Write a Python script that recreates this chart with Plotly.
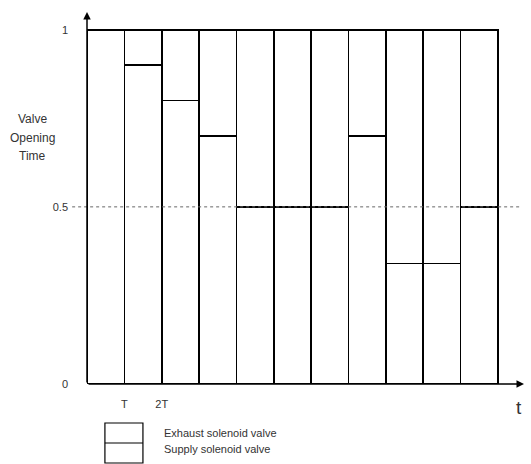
import plotly.graph_objects as go

periods = [1, 2, 3, 4, 5, 6, 7, 8, 9, 10, 11]
supply = [1.0, 0.9, 0.8, 0.7, 0.5, 0.5, 0.5, 0.7, 0.34, 0.34, 0.5]
exhaust = [round(1 - s, 2) for s in supply]
ytick_vals = [0, 0.5, 1]
ytick_text = ["0", "0.5", "1"]
xtick_vals = [1, 2]
xtick_text = ["T", "2T"]

x_centers = [p - 0.5 for p in periods]
font = dict(family="Liberation Sans, Arial, sans-serif", size=11, color="#333")

fig = go.Figure()
fig.add_trace(go.Bar(x=x_centers, y=supply, width=1, name="Supply solenoid valve",
                     marker=dict(color="white", line=dict(color="black", width=1.6)),
                     showlegend=False))
fig.add_trace(go.Bar(x=x_centers, y=exhaust, width=1, name="Exhaust solenoid valve",
                     marker=dict(color="white", line=dict(color="black", width=1.6)),
                     showlegend=False))

fig.update_layout(
    barmode="stack",
    width=531, height=464,
    margin=dict(l=87, r=7, t=12, b=80),
    plot_bgcolor="white", paper_bgcolor="white",
    font=font,
    xaxis=dict(range=[0, 11.7], showgrid=False, zeroline=False, showline=False,
               tickvals=xtick_vals, ticktext=xtick_text, ticks="", ticklabelstandoff=12),
    yaxis=dict(range=[0, 1.05], showgrid=False, zeroline=False, showline=False,
               tickvals=ytick_vals, ticktext=ytick_text, ticks="", ticklabelstandoff=18),
)

# dotted reference line at 0.5
fig.add_shape(type="line", xref="paper", yref="y", x0=-0.034, x1=0.99, y0=0.5, y1=0.5,
              line=dict(color="#666", width=1, dash="dot"), layer="above")

# axes with arrows
fig.add_annotation(x=0, y=1.05, ax=0, ay=0, xref="x", yref="y", axref="x", ayref="y",
                   showarrow=True, arrowhead=2, arrowsize=1, arrowwidth=1.5, arrowcolor="black", text="")
fig.add_annotation(x=11.7, y=0, ax=0, ay=0, xref="x", yref="y", axref="x", ayref="y",
                   showarrow=True, arrowhead=2, arrowsize=1, arrowwidth=1.5, arrowcolor="black", text="")

# axis titles
for txt, yy in [("Valve", 0.749), ("Opening", 0.695), ("Time", 0.644)]:
    fig.add_annotation(x=-0.124, y=yy, xref="paper", yref="y", text=txt, yanchor="middle",
                       xanchor="center", showarrow=False, font=dict(size=12, color="#333"))
fig.add_annotation(x=1.0, y=-0.0645, xref="paper", yref="paper", text="t", yanchor="middle",
                   showarrow=False, font=dict(size=19, color="#333"), xanchor="right")

# custom legend
fig.add_shape(type="rect", xref="paper", yref="paper", x0=0.041, x1=0.128, y0=-0.2124, y1=-0.1048,
              line=dict(color="black", width=1.2), fillcolor="white")
fig.add_shape(type="line", xref="paper", yref="paper", x0=0.041, x1=0.128, y0=-0.1586, y1=-0.1586,
              line=dict(color="black", width=1.2))
fig.add_annotation(x=0.172, y=-0.132, xref="paper", yref="paper", text="Exhaust solenoid valve",
                   showarrow=False, xanchor="left", yanchor="middle", font=dict(size=11, color="#333"))
fig.add_annotation(x=0.172, y=-0.175, xref="paper", yref="paper", text="Supply solenoid valve",
                   showarrow=False, xanchor="left", yanchor="middle", font=dict(size=11, color="#333"))

fig.write_html("out.html", config={"displayModeBar": False},
               post_script="document.body.style.margin='0px';document.body.style.overflow='hidden';")
